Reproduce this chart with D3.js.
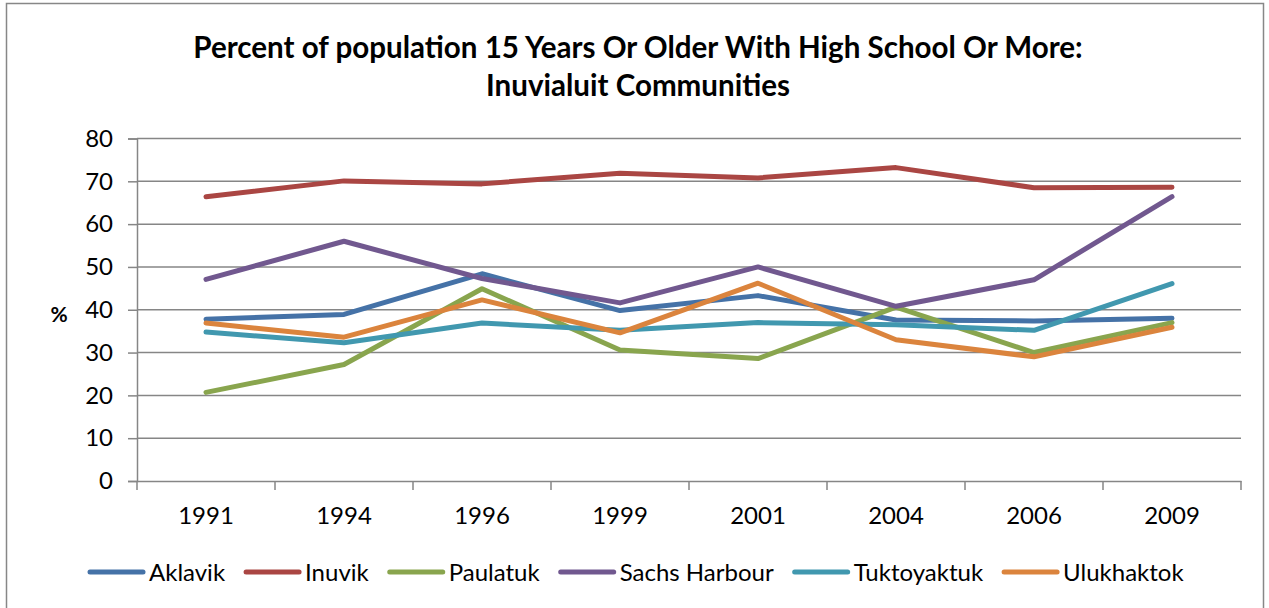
<!DOCTYPE html>
<html><head><meta charset="utf-8">
<script src="https://cdn.jsdelivr.net/npm/d3@7"></script>
<style>
html,body{margin:0;padding:0;background:#fff;}
svg{display:block;font-family:Lato,"Open Sans",sans-serif;}
</style></head>
<body>
<svg id="c" width="1269" height="608"></svg>
<script>
const years = ["1991","1994","1996","1999","2001","2004","2006","2009"];
const seriesNames = ["Aklavik","Inuvik","Paulatuk","Sachs Harbour","Tuktoyaktuk","Ulukhaktok"];
const aklavik    = [37.8, 38.9, 48.4, 39.8, 43.3, 37.6, 37.4, 38.0];
const inuvik     = [66.4, 70.1, 69.4, 71.9, 70.8, 73.2, 68.5, 68.6];
const paulatuk   = [20.7, 27.2, 44.9, 30.6, 28.6, 40.6, 30.0, 37.0];
const sachs      = [47.1, 56.0, 47.3, 41.6, 50.0, 40.8, 47.0, 66.4];
const tuktoyaktuk= [34.8, 32.3, 36.9, 35.2, 37.0, 36.5, 35.2, 46.1];
const ulukhaktok = [36.9, 33.6, 42.3, 34.6, 46.2, 33.0, 29.0, 35.9];
const yTicks = [0,10,20,30,40,50,60,70,80];
const colors = ["#4572A7","#AA4643","#89A54E","#71588F","#4198AF","#DB843D"];
const titleLines = ["Percent of population 15 Years Or Older With High School Or More:","Inuvialuit Communities"];
const yLabel = "%";

const allSeries = [aklavik, inuvik, paulatuk, sachs, tuktoyaktuk, ulukhaktok];

const svg = d3.select("#c");
svg.append("rect").attr("x",6.5).attr("y",3.5).attr("width",1257).attr("height",640)
  .attr("fill","#fff").attr("stroke","#878787").attr("stroke-width",1.5);

const L=137, R=1241, T=138.5, B=481;
const x = d3.scaleBand().domain(years).range([L,R]).padding(0);
const y = d3.scaleLinear().domain([0,80]).range([B,T]);

svg.append("g").selectAll("line").data(yTicks.filter(d=>d>0)).join("line")
  .attr("x1",L).attr("x2",R).attr("y1",d=>y(d)).attr("y2",d=>y(d))
  .attr("stroke","#868686").attr("stroke-width",1.5);

const yAxis = svg.append("g").attr("transform",`translate(${L},0)`)
  .call(d3.axisLeft(y).tickValues(yTicks).tickSize(9).tickPadding(15));
yAxis.select(".domain").attr("stroke","#868686").attr("stroke-width",1.5);
yAxis.selectAll(".tick line").attr("stroke","#868686").attr("stroke-width",1.5);
yAxis.selectAll(".tick text").attr("font-family","Lato").attr("font-size",24).attr("fill","#000");

const xAxis = svg.append("g").attr("transform",`translate(0,${B})`)
  .call(d3.axisBottom(x).tickSize(0).tickPadding(26));
xAxis.select(".domain").attr("stroke","#868686").attr("stroke-width",1.5);
xAxis.selectAll(".tick text").attr("font-family","Lato").attr("font-size",24).attr("fill","#000");
const bounds = years.map(d=>x(d)).concat([R]);
svg.append("g").selectAll("line").data(bounds).join("line")
  .attr("x1",d=>d).attr("x2",d=>d).attr("y1",B).attr("y2",B+9)
  .attr("stroke","#868686").attr("stroke-width",1.5);

const line = d3.line().x((d,i)=>x(years[i])+x.bandwidth()/2).y(d=>y(d));
svg.append("g").selectAll("path").data(allSeries).join("path")
  .attr("d",line).attr("fill","none")
  .attr("stroke",(d,i)=>colors[i]).attr("stroke-width",5)
  .attr("stroke-linejoin","round").attr("stroke-linecap","round");

function fit(sel, target){
  const w = sel.node().getComputedTextLength();
  const fs = parseFloat(sel.attr("font-size"));
  sel.attr("font-size", fs*target/w);
}
const t1 = svg.append("text").attr("x",638).attr("y",58).attr("text-anchor","middle")
  .attr("font-family","Lato").attr("font-weight","bold").attr("font-size",24).text(titleLines[0]);
fit(t1, 890);
svg.append("text").attr("x",638).attr("y",96).attr("text-anchor","middle")
  .attr("font-family","Lato").attr("font-weight","bold").attr("font-size",t1.attr("font-size")).text(titleLines[1]);

svg.append("text").attr("x",59).attr("y",322).attr("text-anchor","middle")
  .attr("font-family","Lato").attr("font-weight","bold").attr("font-size",21).text(yLabel);

const lg = svg.append("g");
let cx = 90;
seriesNames.forEach((n,i)=>{
  lg.append("line").attr("x1",cx).attr("x2",cx+53).attr("y1",572).attr("y2",572)
    .attr("stroke",colors[i]).attr("stroke-width",5).attr("stroke-linecap","round");
  const tx = lg.append("text").attr("x",cx+59).attr("y",580.5).attr("font-family","Lato")
    .attr("font-size",24).attr("fill","#000").text(n);
  cx = cx + 59 + tx.node().getComputedTextLength() + 21;
});
</script>
</body></html>
